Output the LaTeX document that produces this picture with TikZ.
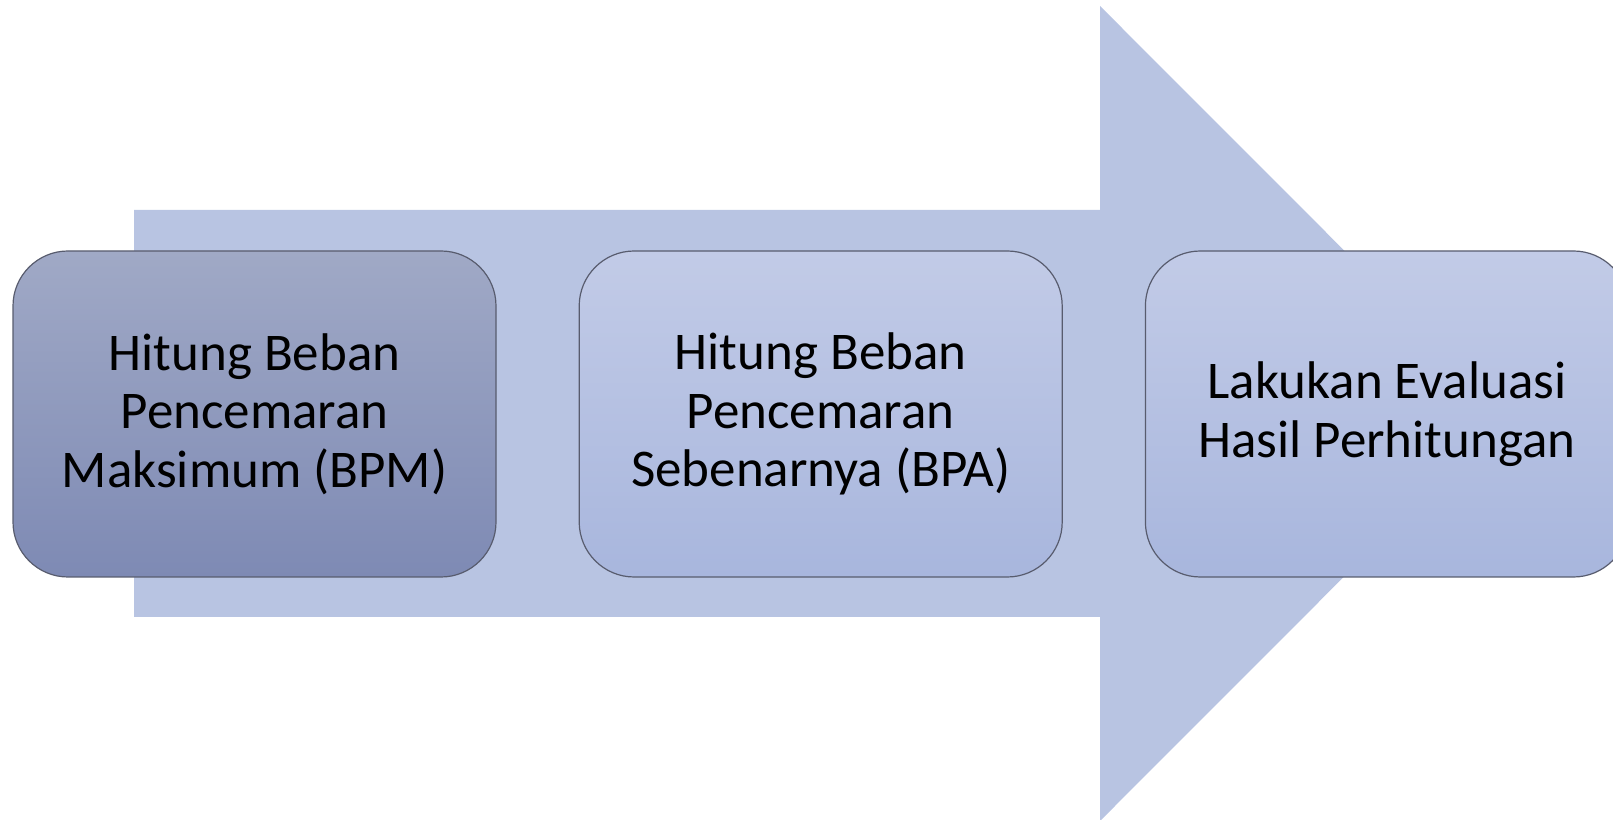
\documentclass[tikz,border=0pt]{standalone}
\usepackage{fontspec}
\setmainfont{Carlito}
\usetikzlibrary{positioning}

\definecolor{arrowblue}{RGB}{184,196,226}
\definecolor{darktop}{RGB}{160,169,198}
\definecolor{darkbot}{RGB}{126,138,180}
\definecolor{lighttop}{RGB}{194,203,231}
\definecolor{lightbot}{RGB}{168,182,221}
\definecolor{edgegray}{RGB}{88,92,110}

\begin{document}
\begin{tikzpicture}[x=1pt,y=1pt,
    stepbox/.style={draw=edgegray, line width=1.2pt, rounded corners=55pt,
        minimum width=483pt, minimum height=326pt, align=center,
        font=\fontsize{53}{58.6}\selectfont},
    darkbox/.style={stepbox, top color=darktop, bottom color=darkbot},
    lightbox/.style={stepbox, top color=lighttop, bottom color=lightbot}]
        % frame of the picture
        \clip (0,0) rectangle (1613,819);
        % big arrow behind the boxes
        \coordinate (T1) at (134,609);
        \coordinate (T2) at (1100,609);
        \coordinate (T3) at (1100,813);
        \coordinate (Tip) at (1507,405.5);
        \coordinate (T4) at (1100,-2);
        \coordinate (T5) at (1100,202);
        \coordinate (T6) at (134,202);
        \fill[arrowblue] (T1) -- (T2) -- (T3) -- (Tip) -- (T4) -- (T5) -- (T6) -- cycle;
        % the three steps
        \node[darkbox] (bpm) at (254.5,405) {Hitung Beban\\Pencemaran\\Maksimum (BPM)};
        \node[lightbox, right=82pt of bpm] (bpa) {Hitung Beban\\Pencemaran\\Sebenarnya (BPA)};
        \node[lightbox, right=82pt of bpa] (eval) {Lakukan Evaluasi\\Hasil Perhitungan};
\end{tikzpicture}
\end{document}
